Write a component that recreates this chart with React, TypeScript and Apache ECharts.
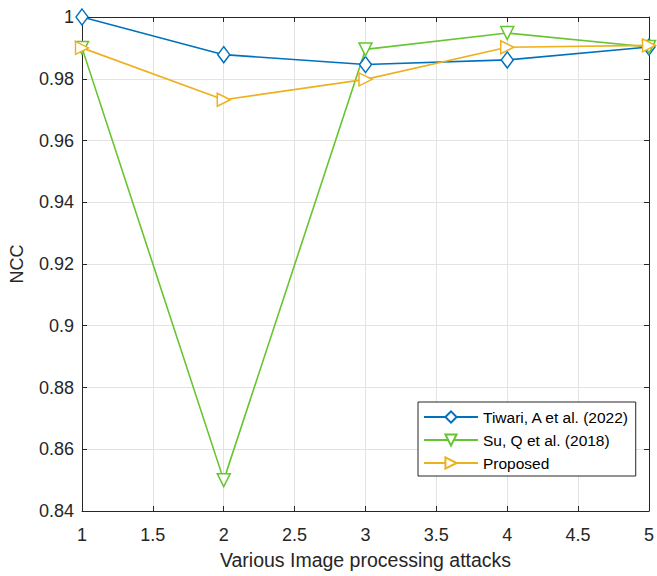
import React, { useEffect, useRef } from "react";
import * as echarts from "echarts";

const xValues = [1, 2, 3, 4, 5];
const tiwari = [1.0, 0.9878, 0.9846, 0.9861, 0.9903];
const su = [0.99, 0.85, 0.9895, 0.9948, 0.9903];
const proposed = [0.99, 0.9732, 0.9798, 0.9902, 0.9908];
const seriesNames = ["Tiwari, A et al. (2022)", "Su, Q et al. (2018)", "Proposed"];
const colors = ["#0072BD", "#66C530", "#EDB120"];

export default function App() {
  const ref = useRef<HTMLDivElement>(null);
  useEffect(() => {
    document.body.style.margin = "0";
    const chart = echarts.init(ref.current!, null, { renderer: "svg" });
    const font = "Liberation Sans, Arial, sans-serif";
    const mk = (name: string, data: number[], color: string, symbol: string, rotate = 0) => ({
      name,
      type: "line",
      data: data.map((v, i) => [xValues[i], v]),
      symbol,
      symbolSize: symbol === "diamond" ? [12, 16] : 13,
      symbolRotate: rotate,
      showSymbol: true,
      lineStyle: { color, width: 1.6 },
      itemStyle: { color: "#fff", borderColor: color, borderWidth: 1.5, opacity: 1 },
      z: 3,
    });
    const axisText = { color: "#262626", fontSize: 18, fontFamily: font };
    chart.setOption({
      animation: false,
      backgroundColor: "#fff",
      grid: { left: 77, top: 17, right: 5, bottom: 65 },
      legend: {
        orient: "vertical",
        left: 418,
        top: 402,
        backgroundColor: "#fff",
        borderColor: "#262626",
        borderWidth: 1,
        borderRadius: 0,
        padding: [7, 6, 5, 5],
        itemWidth: 54,
        itemHeight: 14,
        itemGap: 7,
        textStyle: { color: "#000", fontSize: 15.5, fontFamily: font },
        data: seriesNames,
      },
      xAxis: [
        {
          type: "value",
          min: 1,
          max: 5,
          interval: 0.5,
          name: "Various Image processing attacks",
          nameLocation: "middle",
          nameGap: 39,
          nameTextStyle: { color: "#262626", fontSize: 19.5, fontFamily: font },
          axisLine: { show: true, lineStyle: { color: "#262626", width: 1 } },
          axisTick: { show: true, inside: true, length: 5, lineStyle: { color: "#262626" } },
          axisLabel: { ...axisText, margin: 15 },
          splitLine: { show: true, lineStyle: { color: "#e3e3e3", width: 1 } },
        },
        {
          type: "value",
          position: "top",
          min: 1,
          max: 5,
          interval: 0.5,
          axisLine: { show: true, onZero: false, lineStyle: { color: "#262626", width: 1 } },
          axisTick: { show: true, inside: true, length: 5, lineStyle: { color: "#262626" } },
          axisLabel: { show: false },
          splitLine: { show: false },
        },
      ],
      yAxis: [
        {
          type: "value",
          min: 0.84,
          max: 1,
          interval: 0.02,
          name: "NCC",
          nameLocation: "middle",
          nameGap: 56,
          nameTextStyle: { color: "#262626", fontSize: 18, fontFamily: font },
          axisLine: { show: true, lineStyle: { color: "#262626", width: 1 } },
          axisTick: { show: true, inside: true, length: 5, lineStyle: { color: "#262626" } },
          axisLabel: { ...axisText, margin: 8, formatter: (v: number) => String(parseFloat(v.toFixed(2))) },
          splitLine: { show: true, lineStyle: { color: "#e3e3e3", width: 1 } },
        },
        {
          type: "value",
          position: "right",
          min: 0.84,
          max: 1,
          interval: 0.02,
          axisLine: { show: true, onZero: false, lineStyle: { color: "#262626", width: 1 } },
          axisTick: { show: true, inside: true, length: 5, lineStyle: { color: "#262626" } },
          axisLabel: { show: false },
          splitLine: { show: false },
        },
      ],
      series: [
        mk(seriesNames[0], tiwari, colors[0], "diamond"),
        mk(seriesNames[1], su, colors[1], "triangle", 180),
        mk(seriesNames[2], proposed, colors[2], "triangle", -90),
      ],
    });
    return () => chart.dispose();
  }, []);
  return <div ref={ref} style={{ width: 657, height: 576 }} />;
}
